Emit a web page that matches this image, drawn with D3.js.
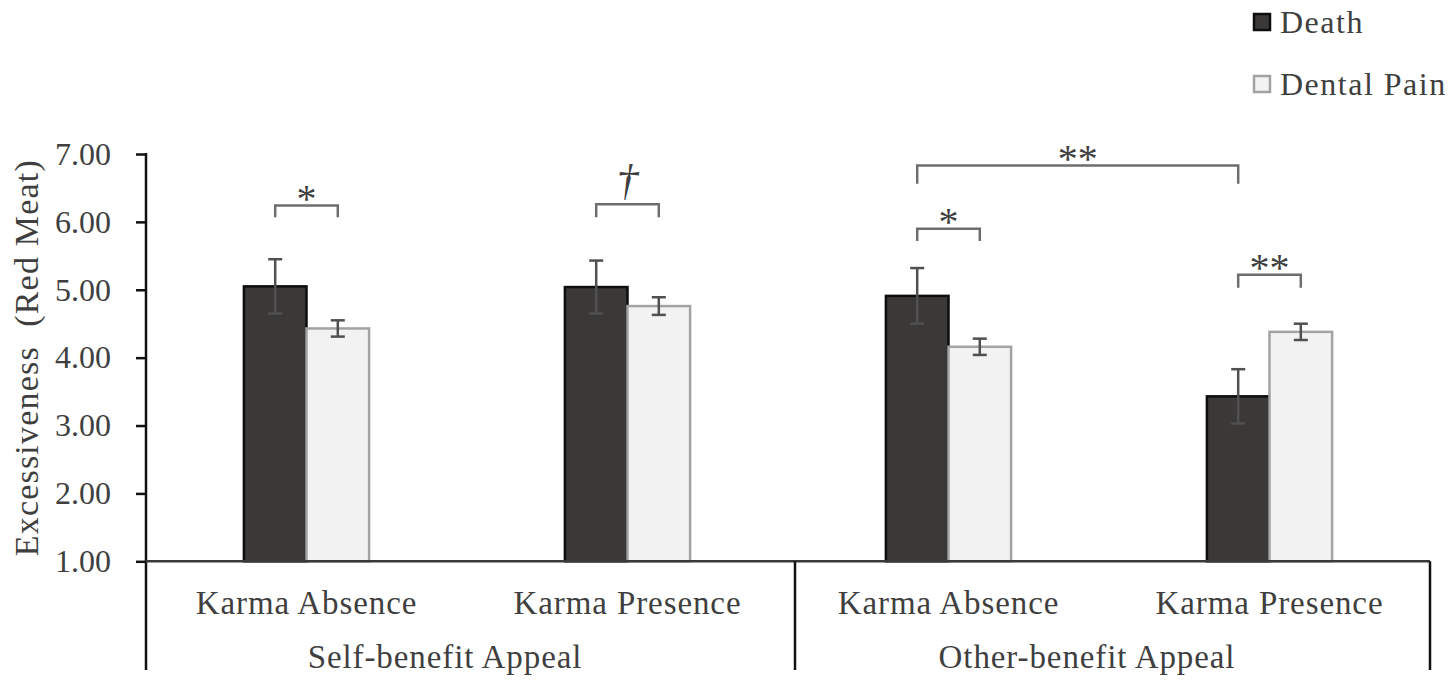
<!DOCTYPE html>
<html>
<head>
<meta charset="utf-8">
<script src="https://cdn.jsdelivr.net/npm/d3@7"></script>
<style>
  body { margin: 0; background: #fff; }
  svg { display: block; }
  text { font-family: 'Liberation Serif', 'Times New Roman', serif; fill: #3f3f3f; }
</style>
</head>
<body>
<div id="chart"></div>
<script>
// data
const categories = ['Karma Absence', 'Karma Presence', 'Karma Absence', 'Karma Presence']
const groups = ['Self-benefit Appeal', 'Other-benefit Appeal']
const series = ['Death', 'Dental Pain']
const deathMeans = [5.05, 5.04, 4.91, 3.43]
const deathErr = [0.40, 0.39, 0.41, 0.40]
const painMeans = [4.43, 4.76, 4.16, 4.38]
const painErr = [0.12, 0.13, 0.12, 0.12]
const yTicks = [1, 2, 3, 4, 5, 6, 7]
const yTitle = 'Excessiveness\u00a0\u00a0(Red Meat)'

// significance brackets: [category, series] -> [category, series]
const brackets = [
  {from: [0, 0], to: [0, 1], top: 6.24, leg: 6.07, label: '*'},
  {from: [1, 0], to: [1, 1], top: 6.26, leg: 6.07, label: '\u2020', italic: true},
  {from: [2, 0], to: [2, 1], top: 5.90, leg: 5.72, label: '*'},
  {from: [2, 0], to: [3, 0], top: 6.83, leg: 6.56, label: '**'},
  {from: [3, 0], to: [3, 1], top: 5.22, leg: 5.03, label: '**'}
]

const width = 1450
const height = 692
const margin = {top: 154, right: 20, bottom: 131, left: 146}

const colors = {
  fill: ['#3b3838', '#f2f2f2'],
  stroke: ['#0d0d0d', '#a3a3a3']
}

const svg = d3.select('#chart').append('svg')
    .attr('width', width)
    .attr('height', height)

const x = d3.scaleBand()
    .domain(d3.range(categories.length))
    .range([margin.left, width - margin.right])

const pairWidth = x.bandwidth() * 0.39
const xs = d3.scaleBand()
    .domain(d3.range(series.length))
    .range([(x.bandwidth() - pairWidth) / 2, (x.bandwidth() + pairWidth) / 2])

const y = d3.scaleLinear()
    .domain([1, 7])
    .range([height - margin.bottom + 0.3, margin.top])

const rows = categories.map(function (c, i) {
  return [
    {cat: i, s: 0, mean: deathMeans[i], err: deathErr[i]},
    {cat: i, s: 1, mean: painMeans[i], err: painErr[i]}
  ]
}).flat()

function barCenter (cat, s) { return x(cat) + xs(s) + xs.bandwidth() / 2 }

// bars
svg.append('g').selectAll('rect')
    .data(rows)
  .join('rect')
    .attr('x', d => x(d.cat) + xs(d.s))
    .attr('y', d => y(d.mean))
    .attr('width', xs.bandwidth())
    .attr('height', d => y(1) - y(d.mean))
    .attr('fill', d => colors.fill[d.s])
    .attr('stroke', d => colors.stroke[d.s])
    .attr('stroke-width', 2.5)

// error bars
const eb = svg.append('g')
    .attr('stroke', '#505050')
    .attr('stroke-width', 2.5)
  .selectAll('g')
    .data(rows)
  .join('g')
eb.append('line')
    .attr('x1', d => barCenter(d.cat, d.s))
    .attr('x2', d => barCenter(d.cat, d.s))
    .attr('y1', d => y(d.mean + d.err))
    .attr('y2', d => y(d.mean - d.err))
eb.append('line')
    .attr('x1', d => barCenter(d.cat, d.s) - 7)
    .attr('x2', d => barCenter(d.cat, d.s) + 7)
    .attr('y1', d => y(d.mean + d.err))
    .attr('y2', d => y(d.mean + d.err))
eb.append('line')
    .attr('x1', d => barCenter(d.cat, d.s) - 7)
    .attr('x2', d => barCenter(d.cat, d.s) + 7)
    .attr('y1', d => y(d.mean - d.err))
    .attr('y2', d => y(d.mean - d.err))

// y axis
const yAxis = d3.axisLeft(y)
    .tickValues(yTicks)
    .tickFormat(d3.format('.2f'))
    .tickSize(10)
    .tickPadding(25)
const gy = svg.append('g')
    .attr('transform', 'translate(' + margin.left + ',0)')
    .call(yAxis)
gy.select('.domain').remove()
gy.selectAll('line').attr('stroke', '#111').attr('stroke-width', 2.5)
gy.selectAll('text')
    .attr('font-size', 32)
    .attr('fill', '#3f3f3f')
    .style('font-family', "'Liberation Serif', serif")
gy.append('line')
    .attr('y1', y(7) - 1)
    .attr('y2', 670)
    .attr('stroke', '#111')
    .attr('stroke-width', 2.5)

// x axis baseline
svg.append('line')
    .attr('x1', margin.left)
    .attr('x2', x.range()[1])
    .attr('y1', y(1))
    .attr('y2', y(1))
    .attr('stroke', '#3a3a3a')
    .attr('stroke-width', 2.5)

// group dividers
svg.append('g').selectAll('line')
    .data([2, categories.length])
  .join('line')
    .attr('x1', d => d === categories.length ? x.range()[1] : x(d) + 7)
    .attr('x2', d => d === categories.length ? x.range()[1] : x(d) + 7)
    .attr('y1', y(1))
    .attr('y2', 670)
    .attr('stroke', '#111')
    .attr('stroke-width', 2.5)

// category labels
svg.append('g').selectAll('text')
    .data(categories)
  .join('text')
    .attr('x', (d, i) => x(i) + x.bandwidth() / 2)
    .attr('y', 614)
    .attr('text-anchor', 'middle')
    .attr('font-size', 33)
    .attr('letter-spacing', 0.9)
    .text(d => d)

// group labels
svg.append('g').selectAll('text')
    .data(groups)
  .join('text')
    .attr('x', (d, i) => (x(i * 2) + x(i * 2 + 1) + x.bandwidth()) / 2 - 22)
    .attr('y', 668)
    .attr('text-anchor', 'middle')
    .attr('font-size', 33)
    .attr('letter-spacing', 0.9)
    .text(d => d)

// y axis title
svg.append('text')
    .attr('transform', 'translate(38,' + (y(1) + y(7)) / 2 + ')rotate(-90)')
    .attr('text-anchor', 'middle')
    .attr('font-size', 34)
    .attr('letter-spacing', 1.2)
    .text(yTitle)

// significance brackets
const br = svg.append('g').selectAll('g')
    .data(brackets)
  .join('g')
br.append('path')
    .attr('d', function (d) {
      const x1 = barCenter(d.from[0], d.from[1])
      const x2 = barCenter(d.to[0], d.to[1])
      return 'M' + x1 + ',' + y(d.leg) + 'V' + y(d.top) + 'H' + x2 + 'V' + y(d.leg)
    })
    .attr('fill', 'none')
    .attr('stroke', '#6e6e6e')
    .attr('stroke-width', 2.5)
br.append('text')
    .attr('x', d => (barCenter(d.from[0], d.from[1]) + barCenter(d.to[0], d.to[1])) / 2)
    .attr('y', d => d.italic ? y(d.top) - 9 : y(d.top) + 6)
    .attr('text-anchor', 'middle')
    .attr('font-size', d => d.italic ? 44 : 40)
    .attr('font-style', d => d.italic ? 'italic' : 'normal')
    .attr('fill', '#222')
    .text(d => d.label)

// legend
const legend = svg.append('g').selectAll('g')
    .data(series)
  .join('g')
    .attr('transform', (d, i) => 'translate(1254,' + (14 + i * 62) + ')')
legend.append('rect')
    .attr('width', 16)
    .attr('height', 16)
    .attr('fill', (d, i) => colors.fill[i])
    .attr('stroke', (d, i) => colors.stroke[i])
    .attr('stroke-width', 2.5)
legend.append('text')
    .attr('x', 26)
    .attr('y', 19)
    .attr('font-size', 32)
    .attr('letter-spacing', 1.5)
    .text(d => d)
</script>
</body>
</html>
